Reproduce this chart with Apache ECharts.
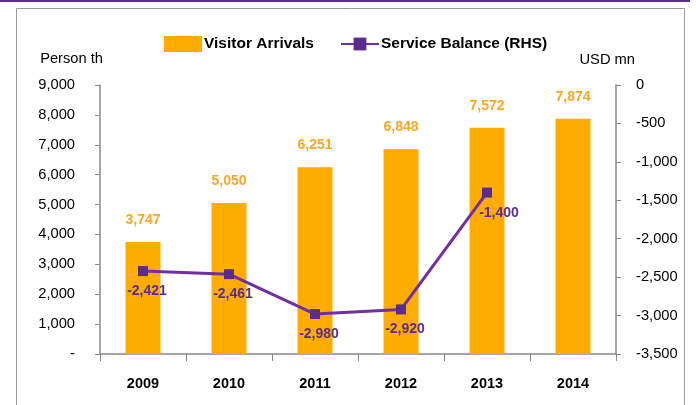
<!DOCTYPE html>
<html><head><meta charset="utf-8">
<script src="https://cdn.jsdelivr.net/npm/echarts@6/dist/echarts.min.js"></script>
<style>html,body{margin:0;padding:0;background:#fff}#c{width:696px;height:405px}</style>
</head><body><div id="c"></div>
<script>
const categories = ['2009','2010','2011','2012','2013','2014'];
const visitorArrivals = [3747, 5050, 6251, 6848, 7572, 7874];
const serviceBalance = [-2421, -2461, -2980, -2920, -1400, null];
const leftTicks = {min: 0, max: 9000, interval: 1000};
const rightTicks = {min: -3500, max: 0, interval: 500};

const font = 'Liberation Sans, Arial, sans-serif';
const chart = echarts.init(document.getElementById('c'));
chart.setOption({
  animation: false,
  textStyle: {fontFamily: font},
  graphic: [
    {type: 'rect', shape: {x: 16.5, y: 8.5, width: 668, height: 420}, style: {fill: null, stroke: '#999', lineWidth: 1}},
    {type: 'line', shape: {x1: 0, y1: 1, x2: 690, y2: 1}, style: {stroke: '#5b2d8e', lineWidth: 2}}
  ],
  legend: {
    top: 31, left: 159, itemGap: 26, itemWidth: 38, itemHeight: 16,
    textStyle: {fontFamily: font, fontWeight: 'bold', fontSize: 15.5, color: '#000', padding: [0,0,0,-3]},
    data: [
      {name: 'Visitor Arrivals', icon: 'rect'},
      {name: 'Service Balance (RHS)'}
    ]
  },
  grid: {left: 100, right: 80, top: 85, bottom: 51},
  xAxis: {
    type: 'category', data: categories, boundaryGap: true,
    axisLine: {lineStyle: {color: '#888', width: 1.5}},
    axisTick: {show: true, length: 7, lineStyle: {color: '#888'}},
    axisLabel: {fontFamily: font, fontWeight: 'bold', fontSize: 14.5, color: '#000', margin: 22}
  },
  yAxis: [
    {
      type: 'value', min: leftTicks.min, max: leftTicks.max, interval: leftTicks.interval,
      name: 'Person th', nameLocation: 'end', nameGap: 19,
      nameTextStyle: {fontFamily: font, fontSize: 14.7, color: '#000', align: 'right', padding: [0, -3, 0, 0]},
      axisLine: {show: true, lineStyle: {color: '#888', width: 1.5}},
      axisTick: {show: true, length: 5, lineStyle: {color: '#888'}},
      splitLine: {show: false},
      axisLabel: {fontFamily: font, fontSize: 14.7, color: '#000', margin: 25,
        formatter: v => v === 0 ? '-' : v.toLocaleString('en-US')}
    },
    {
      type: 'value', min: rightTicks.min, max: rightTicks.max, interval: rightTicks.interval,
      name: 'USD mn', nameLocation: 'end', nameGap: 18,
      nameTextStyle: {fontFamily: font, fontSize: 14.7, color: '#000', align: 'right', padding: [0, -19, 0, 0]},
      axisLine: {show: true, lineStyle: {color: '#888', width: 1.5}},
      axisTick: {show: true, length: 5, lineStyle: {color: '#888'}},
      splitLine: {show: false},
      axisLabel: {fontFamily: font, fontSize: 14.7, color: '#000', margin: 20,
        formatter: v => v.toLocaleString('en-US')}
    }
  ],
  series: [
    {
      name: 'Visitor Arrivals', type: 'bar', data: visitorArrivals, barWidth: 35,
      itemStyle: {color: '#FFAB00'},
      label: {show: true, position: 'top', distance: 15, fontFamily: font, fontWeight: 'bold', fontSize: 14, color: '#F9A825',
        formatter: p => p.value.toLocaleString('en-US')}
    },
    {
      name: 'Service Balance (RHS)', type: 'line', yAxisIndex: 1, data: serviceBalance,
      symbol: 'rect', symbolSize: 10, connectNulls: false,
      lineStyle: {color: '#7030A0', width: 3},
      itemStyle: {color: '#5B2C8E'},
      label: {show: true, position: 'bottom', distance: 8, fontFamily: font, fontWeight: 'bold', fontSize: 14, color: '#5B2C8E',
        formatter: p => p.value == null ? '' : p.value.toLocaleString('en-US')},
      labelLayout: p => p.dataIndex === 4 ? {dx: 12, dy: 1} : {dx: 4}
    }
  ]
});
</script></body></html>
